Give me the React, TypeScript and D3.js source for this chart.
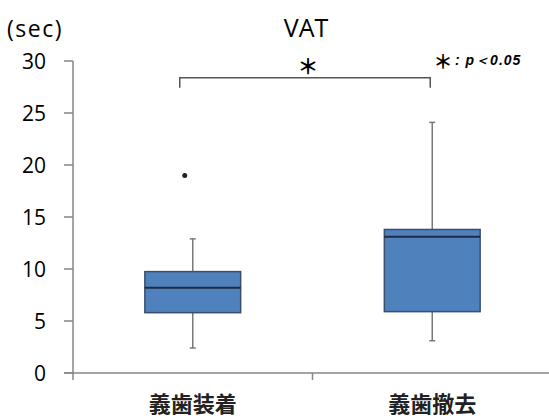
import React from "react";
import * as d3 from "d3";

// groups and box stats
const categories = ["義歯装着", "義歯撤去"];
const whiskerLow = [2.4, 3.1];
const q1 = [5.8, 5.9];
const median = [8.2, 13.1];
const q3 = [9.75, 13.8];
const whiskerHigh = [12.9, 24.1];
const outliers = [[19.0], []];
const yTicks = [0, 5, 10, 15, 20, 25, 30];

const W = 549;
const H = 418;
const margin = { left: 73, right: -3, top: 61, bottom: 45 };

const App: React.FC = () => {
  const x = d3
    .scaleBand<string>()
    .domain(categories)
    .range([margin.left, W - margin.right])
    .padding(0);
  const y = d3.scaleLinear().domain([0, 30]).range([H - margin.bottom, margin.top]);

  const boxW = x.bandwidth() * 0.4;
  const cx = (c: string) => (x(c) as number) + x.bandwidth() / 2;
  const axisColor = "#868686";
  const font = "'Open Sans', 'Noto Sans', sans-serif";

  const c0 = cx(categories[0]);
  const c1 = cx(categories[1]);
  const bracketY = y(28.4);

  return (
    <svg width={W} height={H} style={{ position: "absolute", left: 0, top: 0 }}>
      <rect width={W} height={H} fill="#fff" />
      <text x={306} y={37} textAnchor="middle" fontFamily={font} fontSize={25} fill="#000">
        VAT
      </text>
      <text x={7} y={37} fontFamily={font} fontSize={23} letterSpacing={1.5} fill="#000">
        (sec)
      </text>

      {/* y axis */}
      <line x1={margin.left} x2={margin.left} y1={y(30)} y2={y(0) + 7} stroke={axisColor} strokeWidth={1.5} />
      {yTicks.map((t) => (
        <g key={t}>
          <line x1={margin.left - 9} x2={margin.left} y1={y(t)} y2={y(t)} stroke={axisColor} strokeWidth={1.5} />
          <text x={46} y={y(t)} dy="0.36em" textAnchor="end" fontFamily={font} fontSize={21} fill="#000">
            {t}
          </text>
        </g>
      ))}

      {/* x axis */}
      <line x1={margin.left - 9} x2={W} y1={y(0)} y2={y(0)} stroke={axisColor} strokeWidth={1.5} />
      {categories.slice(1).map((c) => (
        <line key={c} x1={x(c) as number} x2={x(c) as number} y1={y(0)} y2={y(0) + 7} stroke={axisColor} strokeWidth={1.5} />
      ))}
      {categories.map((c) => (
        <text
          key={c}
          x={cx(c)}
          y={412}
          textAnchor="middle"
          fontFamily="'Noto Sans CJK JP', sans-serif"
          fontWeight="bold"
          fontSize={22}
          fill="#222"
        >
          {c}
        </text>
      ))}

      {/* boxes */}
      {categories.map((c, i) => {
        const m = cx(c);
        return (
          <g key={c}>
            <line x1={m} x2={m} y1={y(whiskerHigh[i])} y2={y(q3[i])} stroke="#7a7a7a" strokeWidth={1.5} />
            <line x1={m} x2={m} y1={y(q1[i])} y2={y(whiskerLow[i])} stroke="#7a7a7a" strokeWidth={1.5} />
            <line x1={m - 3} x2={m + 3} y1={y(whiskerHigh[i])} y2={y(whiskerHigh[i])} stroke="#7a7a7a" strokeWidth={1.5} />
            <line x1={m - 3} x2={m + 3} y1={y(whiskerLow[i])} y2={y(whiskerLow[i])} stroke="#7a7a7a" strokeWidth={1.5} />
            <rect
              x={m - boxW / 2}
              y={y(q3[i])}
              width={boxW}
              height={y(q1[i]) - y(q3[i])}
              fill="#4f81bd"
              stroke="#3a4f6a"
              strokeWidth={1.5}
            />
            <line x1={m - boxW / 2} x2={m + boxW / 2} y1={y(median[i])} y2={y(median[i])} stroke="#1c2c44" strokeWidth={2} />
            {outliers[i].map((o, j) => (
              <circle key={j} cx={m - 8} cy={y(o)} r={2.5} fill="#222" />
            ))}
          </g>
        );
      })}

      {/* significance bracket */}
      <path
        d={`M${c0 - 13},${bracketY + 10}V${bracketY}H${c1 - 2}V${bracketY + 10}`}
        fill="none"
        stroke="#555"
        strokeWidth={1.5}
      />
      <text x={308} y={74} textAnchor="middle" fontFamily="'Noto Sans CJK JP', sans-serif" fontWeight="bold" fontSize={21} fill="#000">
        ＊
      </text>
      <text x={443} y={69} textAnchor="middle" fontFamily="'Noto Sans CJK JP', sans-serif" fontWeight="bold" fontSize={19} fill="#000">
        ＊
      </text>
      <text
        x={455}
        y={65}
        fontFamily="'Liberation Sans', Arial, sans-serif"
        fontSize={14}
        fontWeight="bold"
        fontStyle="italic"
        letterSpacing={1}
        fill="#000"
      >
        : p＜0.05
      </text>
    </svg>
  );
};

export default App;
